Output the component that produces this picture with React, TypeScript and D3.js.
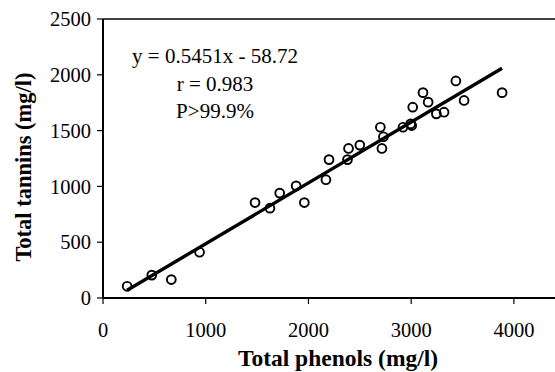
import { useRef, useEffect } from 'react';
import * as d3 from 'd3';

// Total phenols (x) and total tannins (y), mg/l
const phenols = [235, 475, 665, 940, 1480, 1625, 1720, 1880, 1960, 2170, 2200, 2380, 2390, 2500, 2700, 2715, 2730, 2920, 2995, 3005, 3015, 3115, 3165, 3245, 3320, 3435, 3515, 3885];
const tannins = [105, 205, 165, 410, 855, 805, 940, 1005, 855, 1060, 1240, 1240, 1340, 1370, 1530, 1340, 1445, 1530, 1560, 1545, 1710, 1840, 1755, 1650, 1665, 1945, 1770, 1840];

const xTicks = [0, 1000, 2000, 3000, 4000];
const yTicks = [0, 500, 1000, 1500, 2000, 2500];

const slope = 0.5451;
const intercept = -58.72;
const annotation = ['y = 0.5451x - 58.72', 'r = 0.983', 'P>99.9%'];

const W = 555;
const H = 372;
const FONT = "'Liberation Serif', 'DejaVu Serif', serif";

export default function App() {
  const svgRef = useRef<SVGSVGElement>(null);

  useEffect(() => {
    const svg = d3.select(svgRef.current);
    svg.selectAll('*').remove();

    const left = 103, right = 555, top = 19, bottom = 298;
    const x = d3.scaleLinear().domain([0, 4400]).range([left, right]);
    const y = d3.scaleLinear().domain([0, 2500]).range([bottom, top]);

    // frame: top border line
    svg.append('line')
      .attr('x1', left).attr('x2', W + 5)
      .attr('y1', top).attr('y2', top)
      .attr('stroke', '#000').attr('stroke-width', 1.5);

    // y axis
    svg.append('line')
      .attr('x1', left).attr('x2', left)
      .attr('y1', top).attr('y2', bottom)
      .attr('stroke', '#000').attr('stroke-width', 2);
    yTicks.forEach(t => {
      svg.append('line')
        .attr('x1', left - 6).attr('x2', left)
        .attr('y1', y(t)).attr('y2', y(t))
        .attr('stroke', '#000').attr('stroke-width', 1.2);
      svg.append('text')
        .attr('x', left - 12).attr('y', y(t))
        .attr('dy', '0.35em')
        .attr('text-anchor', 'end')
        .style('font-family', FONT).style('font-size', '20.5px')
        .text(t);
    });

    // x axis
    svg.append('line')
      .attr('x1', left).attr('x2', W + 5)
      .attr('y1', bottom).attr('y2', bottom)
      .attr('stroke', '#000').attr('stroke-width', 2);
    xTicks.forEach(t => {
      svg.append('line')
        .attr('x1', x(t)).attr('x2', x(t))
        .attr('y1', bottom).attr('y2', bottom + 6)
        .attr('stroke', '#000').attr('stroke-width', 1.2);
      svg.append('text')
        .attr('x', x(t)).attr('y', 337)
        .attr('text-anchor', 'middle')
        .style('font-family', FONT).style('font-size', '20.5px')
        .text(t);
    });

    // regression line
    const xMin = d3.min(phenols)!;
    const xMax = d3.max(phenols)!;
    svg.append('line')
      .attr('x1', x(xMin)).attr('y1', y(slope * xMin + intercept))
      .attr('x2', x(xMax)).attr('y2', y(slope * xMax + intercept))
      .attr('stroke', '#000').attr('stroke-width', 3.4);

    // points
    svg.append('g')
      .selectAll('circle')
      .data(phenols.map((p, i) => [p, tannins[i]]))
      .join('circle')
      .attr('cx', d => x(d[0]))
      .attr('cy', d => y(d[1]))
      .attr('r', 4.4)
      .attr('fill', 'none')
      .attr('stroke', '#000')
      .attr('stroke-width', 1.9);

    // annotation
    annotation.forEach((s, i) => {
      svg.append('text')
        .attr('x', 215).attr('y', 63 + i * 27.5)
        .attr('text-anchor', 'middle')
        .style('font-family', FONT).style('font-size', '21px')
        .text(s);
    });

    // axis titles
    svg.append('text')
      .attr('transform', `translate(31,167) rotate(-90)`)
      .attr('text-anchor', 'middle')
      .style('font-family', FONT).style('font-size', '22.5px').style('font-weight', 'bold')
      .text('Total tannins (mg/l)');
    svg.append('text')
      .attr('x', 338).attr('y', 366)
      .attr('text-anchor', 'middle')
      .style('font-family', FONT).style('font-size', '23.5px').style('font-weight', 'bold')
      .text('Total phenols (mg/l)');
  }, []);

  return (
    <div style={{ position: 'fixed', left: 0, top: 0 }}>
      <svg ref={svgRef} width={W} height={H} style={{ display: 'block', background: '#fff' }} />
    </div>
  );
}
